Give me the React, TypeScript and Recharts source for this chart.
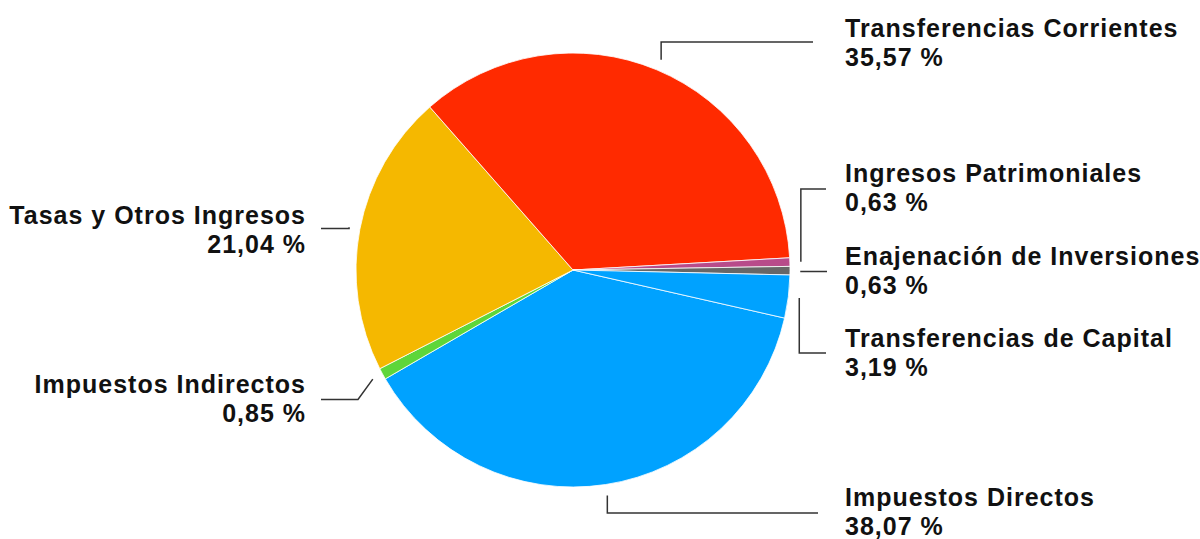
import React from 'react';
import { PieChart, Pie, Cell } from 'recharts';

// Budget chapters, in chart order (clockwise from Impuestos Directos)
const categories = [
  'Impuestos Directos',
  'Impuestos Indirectos',
  'Tasas y Otros Ingresos',
  'Transferencias Corrientes',
  'Ingresos Patrimoniales',
  'Enajenación de Inversiones',
  'Transferencias de Capital',
];
const shares = [38.07, 0.85, 21.04, 35.57, 0.63, 0.63, 3.19];
const colors = ['#00a2ff', '#5ed63a', '#f5b800', '#ff2a00', '#b84b8a', '#676767', '#00a2ff'];

// Label placement: horizontal leader y, leader end x, text anchor x, first baseline, side
const labelLayout = [
  { lineY: 513, endX: 818, textX: 845, textY: 506, side: 'right' },
  { lineY: 399.5, endX: 321, textX: 306, textY: 393, side: 'left', elbowX: 358 },
  { lineY: 228.5, endX: 321, textX: 306, textY: 224, side: 'left' },
  { lineY: 42, endX: 813, textX: 845, textY: 37, side: 'right' },
  { lineY: 189, endX: 826, textX: 845, textY: 182, side: 'right' },
  { lineY: 271.5, endX: 827, textX: 845, textY: 265, side: 'right' },
  { lineY: 353, endX: 826, textX: 845, textY: 347, side: 'right' },
];

const data = categories.map((name, i) => ({ name, value: shares[i] }));

const RADIAN = Math.PI / 180;
const fmt = (v: number) => v.toFixed(2).replace('.', ',') + ' %';

const renderLabel = (props: any) => {
  const { cx, cy, midAngle, outerRadius, index } = props;
  const cfg = labelLayout[index];
  const r = outerRadius + 11;
  const x0 = cx + r * Math.cos(-midAngle * RADIAN);
  const y0 = cy + r * Math.sin(-midAngle * RADIAN);
  const elbowX = cfg.elbowX !== undefined ? cfg.elbowX : x0;
  const d = `M${x0},${y0} L${elbowX},${cfg.lineY} L${cfg.endX},${cfg.lineY}`;
  const anchor = cfg.side === 'right' ? 'start' : 'end';
  return (
    <g key={`lbl-${index}`}>
      <path d={d} stroke="#333" strokeWidth={1.5} fill="none" />
      <text
        x={cfg.textX}
        y={cfg.textY}
        textAnchor={anchor}
        fill="#111"
        style={{
          fontFamily: '"Liberation Sans", Arial, sans-serif',
          fontWeight: 700,
          fontSize: 25,
          letterSpacing: 1,
        }}
      >
        <tspan x={cfg.textX}>{categories[index]}</tspan>
        <tspan x={cfg.textX} dy={29}>{fmt(shares[index])}</tspan>
      </text>
    </g>
  );
};

export default function App() {
  return (
    <div style={{ position: 'absolute', left: 0, top: 0, width: 1200, height: 539, background: '#fff' }}>
      <PieChart width={1200} height={539} margin={{ top: 0, right: 0, bottom: 0, left: 0 }}>
        <Pie
          data={data}
          dataKey="value"
          nameKey="name"
          cx={573}
          cy={270}
          outerRadius={217}
          startAngle={-12.8}
          endAngle={-372.8}
          stroke="#fff"
          strokeWidth={0.8}
          label={renderLabel}
          labelLine={false}
          isAnimationActive={false}
        >
          {data.map((entry, i) => (
            <Cell key={entry.name} fill={colors[i]} />
          ))}
        </Pie>
      </PieChart>
    </div>
  );
}
